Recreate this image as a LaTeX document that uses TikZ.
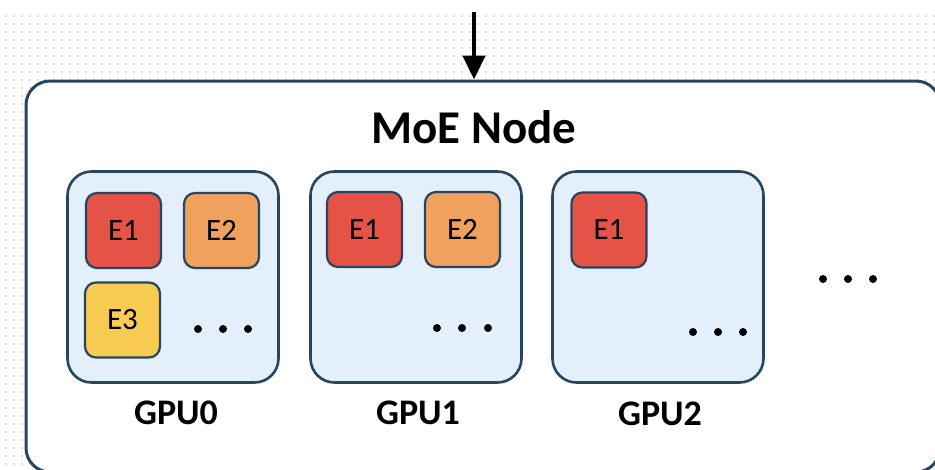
\documentclass[tikz,border=0pt]{standalone}
\usepackage{fontspec}
\setmainfont{Carlito}
\usetikzlibrary{arrows.meta}
\definecolor{edge}{HTML}{27455F}
\definecolor{gpufill}{HTML}{E3EFFB}
\definecolor{ered}{HTML}{E55347}
\definecolor{eorange}{HTML}{F0A15E}
\definecolor{eyellow}{HTML}{F8CC52}
\definecolor{griddot}{HTML}{DDDDDD}
\tikzset{
  outerbox/.style={draw=edge, line width=3pt, fill=white, rounded corners=24pt,
    minimum width=914pt, minimum height=391pt, inner sep=0pt},
  gpubox/.style={draw=edge, line width=2.6pt, fill=gpufill, rounded corners=24pt,
    minimum width=211pt, minimum height=211pt, inner sep=0pt},
  expert/.style={draw=edge, line width=2.2pt, rounded corners=11pt,
    minimum width=75pt, minimum height=75pt, inner sep=0pt,
    font=\fontsize{31}{34}\selectfont},
  gpulabel/.style={font=\fontsize{36}{40}\selectfont\bfseries, inner sep=0pt},
  dotmark/.style={fill=black, circle, minimum size=8pt, inner sep=0pt},
}
\begin{document}
\begin{tikzpicture}[x=1pt,y=-1pt]
\useasboundingbox (0,0) rectangle (935,469);
\clip (0,0) rectangle (935,469);
% dotted background
\foreach \yy in {16,24,...,468} {
  \fill[griddot] \foreach \xx in {6,14,...,934} {(\xx-0.8,\yy-0.8) rectangle ++(1.6,1.6)};
}
% outer MoE node
\node[outerbox] (moe) at (483,276.5) {};
\node[font=\fontsize{47}{50}\selectfont\bfseries, inner sep=0pt] (title) at (474,127) {MoE Node};
\coordinate (in) at (474,12);
\draw[line width=4.5pt, -{Triangle[width=22pt,length=24pt]}] (in) -- (in |- moe.north);
% GPUs
\node[gpubox] (g0) at (173,277) {};
\node[gpubox] (g1) at (416,277) {};
\node[gpubox] (g2) at (658,277) {};
% experts
\node[expert, fill=ered] (g0e1) at (123.5,230.5) {E1};
\node[expert, fill=eorange] (g0e2) at (221.5,230.5) {E2};
\node[expert, fill=eyellow] (g0e3) at (122.5,320) {E3};
\node[expert, fill=ered] (g1e1) at (364.5,229.5) {E1};
\node[expert, fill=eorange] (g1e2) at (462.5,229.5) {E2};
\node[expert, fill=ered] (g2e1) at (609,230) {E1};
% ellipsis dots
\foreach \xx [count=\i] in {198,223,248} \node[dotmark] (d0\i) at (\xx,329) {};
\foreach \xx [count=\i] in {437,462,488} \node[dotmark] (d1\i) at (\xx,328) {};
\foreach \xx [count=\i] in {693,718,743} \node[dotmark] (d2\i) at (\xx,332) {};
\foreach \xx [count=\i] in {823,848,873} \node[dotmark] (d3\i) at (\xx,279) {};
% labels
\node[gpulabel] (l0) at (176,413) {GPU0};
\node[gpulabel] (l1) at (418,413) {GPU1};
\node[gpulabel] (l2) at (660,414) {GPU2};
\end{tikzpicture}
\end{document}
